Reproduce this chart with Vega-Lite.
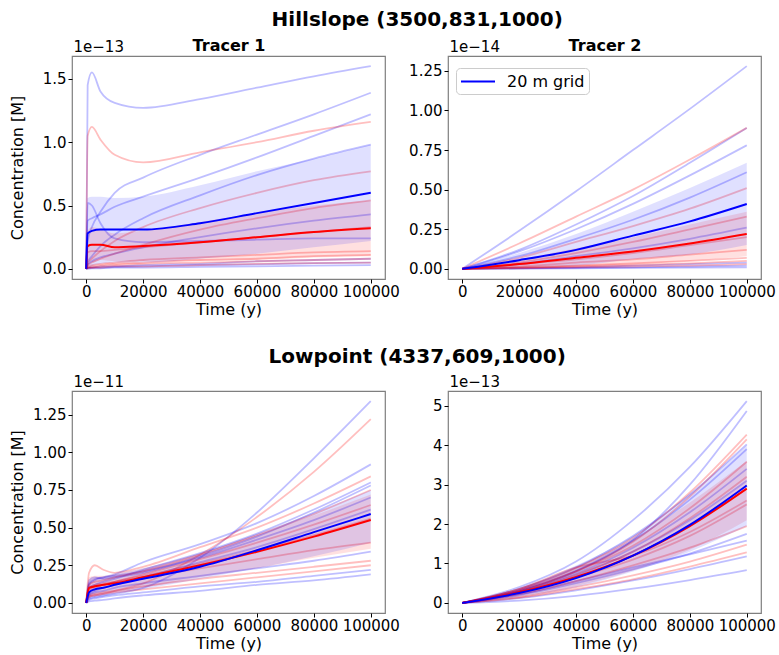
{
"$schema": "https://vega.github.io/schema/vega-lite/v6.json",
"background": "white",
"padding": {"left": 8, "top": 10, "right": 0, "bottom": 0},
"config": {
 "view": {"stroke": "#7f7f7f", "strokeWidth": 1.2},
 "axis": {"labelFont": "DejaVu Sans", "labelFontSize": 15, "labelColor": "#000", "titleFont": "DejaVu Sans", "titleFontSize": 16, "titleFontWeight": "normal", "titleColor": "#000", "tickColor": "#000", "tickSize": 4, "domain": false, "grid": false, "labelPadding": 2, "labelOverlap": false, "labelFlush": false},
 "axisX": {"labelPadding": 1},
 "title": {"font": "DejaVu Sans", "color": "#000"},
 "line": {"interpolate": "monotone"},
 "area": {"interpolate": "monotone"}
},
"datasets": {
 "L1": [
  {"s":"B","r":1,"t":0,"v":0},{"s":"B","r":1,"t":500,"v":1.45},{"s":"B","r":1,"t":2000,"v":1.55},{"s":"B","r":1,"t":5000,"v":1.4},{"s":"B","r":1,"t":10000,"v":1.31},{"s":"B","r":1,"t":20000,"v":1.27},{"s":"B","r":1,"t":40000,"v":1.34},{"s":"B","r":1,"t":60000,"v":1.43},{"s":"B","r":1,"t":80000,"v":1.52},{"s":"B","r":1,"t":100000,"v":1.6},
  {"s":"B","r":2,"t":0,"v":0},{"s":"B","r":2,"t":500,"v":0.22},{"s":"B","r":2,"t":2000,"v":0.33},{"s":"B","r":2,"t":5000,"v":0.45},{"s":"B","r":2,"t":10000,"v":0.6},{"s":"B","r":2,"t":20000,"v":0.72},{"s":"B","r":2,"t":40000,"v":0.9},{"s":"B","r":2,"t":60000,"v":1.06},{"s":"B","r":2,"t":80000,"v":1.22},{"s":"B","r":2,"t":100000,"v":1.39},
  {"s":"B","r":3,"t":0,"v":0},{"s":"B","r":3,"t":500,"v":0.38},{"s":"B","r":3,"t":2000,"v":0.4},{"s":"B","r":3,"t":5000,"v":0.43},{"s":"B","r":3,"t":10000,"v":0.49},{"s":"B","r":3,"t":20000,"v":0.57},{"s":"B","r":3,"t":40000,"v":0.72},{"s":"B","r":3,"t":60000,"v":0.88},{"s":"B","r":3,"t":80000,"v":1.05},{"s":"B","r":3,"t":100000,"v":1.22},
  {"s":"B","r":4,"t":0,"v":0},{"s":"B","r":4,"t":500,"v":0.52},{"s":"B","r":4,"t":2000,"v":0.5},{"s":"B","r":4,"t":5000,"v":0.36},{"s":"B","r":4,"t":10000,"v":0.24},{"s":"B","r":4,"t":20000,"v":0.21},{"s":"B","r":4,"t":40000,"v":0.22},{"s":"B","r":4,"t":60000,"v":0.23},{"s":"B","r":4,"t":80000,"v":0.24},{"s":"B","r":4,"t":100000,"v":0.24},
  {"s":"B","r":5,"t":0,"v":0},{"s":"B","r":5,"t":500,"v":0.05},{"s":"B","r":5,"t":2000,"v":0.1},{"s":"B","r":5,"t":5000,"v":0.18},{"s":"B","r":5,"t":10000,"v":0.27},{"s":"B","r":5,"t":20000,"v":0.4},{"s":"B","r":5,"t":40000,"v":0.58},{"s":"B","r":5,"t":60000,"v":0.74},{"s":"B","r":5,"t":80000,"v":0.87},{"s":"B","r":5,"t":100000,"v":0.98},
  {"s":"B","r":6,"t":0,"v":0},{"s":"B","r":6,"t":500,"v":0.03},{"s":"B","r":6,"t":2000,"v":0.06},{"s":"B","r":6,"t":5000,"v":0.09},{"s":"B","r":6,"t":10000,"v":0.12},{"s":"B","r":6,"t":20000,"v":0.17},{"s":"B","r":6,"t":40000,"v":0.25},{"s":"B","r":6,"t":60000,"v":0.32},{"s":"B","r":6,"t":80000,"v":0.38},{"s":"B","r":6,"t":100000,"v":0.43},
  {"s":"B","r":7,"t":0,"v":0},{"s":"B","r":7,"t":500,"v":0.01},{"s":"B","r":7,"t":2000,"v":0.01},{"s":"B","r":7,"t":5000,"v":0.02},{"s":"B","r":7,"t":10000,"v":0.02},{"s":"B","r":7,"t":20000,"v":0.03},{"s":"B","r":7,"t":40000,"v":0.04},{"s":"B","r":7,"t":60000,"v":0.06},{"s":"B","r":7,"t":80000,"v":0.07},{"s":"B","r":7,"t":100000,"v":0.08},
  {"s":"B","r":8,"t":0,"v":0},{"s":"B","r":8,"t":500,"v":0.005},{"s":"B","r":8,"t":2000,"v":0.01},{"s":"B","r":8,"t":5000,"v":0.01},{"s":"B","r":8,"t":10000,"v":0.015},{"s":"B","r":8,"t":20000,"v":0.02},{"s":"B","r":8,"t":40000,"v":0.03},{"s":"B","r":8,"t":60000,"v":0.035},{"s":"B","r":8,"t":80000,"v":0.045},{"s":"B","r":8,"t":100000,"v":0.05},
  {"s":"B","r":9,"t":0,"v":0},{"s":"B","r":9,"t":500,"v":0},{"s":"B","r":9,"t":2000,"v":0.005},{"s":"B","r":9,"t":5000,"v":0.005},{"s":"B","r":9,"t":10000,"v":0.01},{"s":"B","r":9,"t":20000,"v":0.01},{"s":"B","r":9,"t":40000,"v":0.015},{"s":"B","r":9,"t":60000,"v":0.02},{"s":"B","r":9,"t":80000,"v":0.025},{"s":"B","r":9,"t":100000,"v":0.03},
  {"s":"R","r":1,"t":0,"v":0},{"s":"R","r":1,"t":500,"v":1.05},{"s":"R","r":1,"t":2000,"v":1.12},{"s":"R","r":1,"t":5000,"v":1.02},{"s":"R","r":1,"t":10000,"v":0.9},{"s":"R","r":1,"t":20000,"v":0.84},{"s":"R","r":1,"t":40000,"v":0.92},{"s":"R","r":1,"t":60000,"v":1.0},{"s":"R","r":1,"t":80000,"v":1.09},{"s":"R","r":1,"t":100000,"v":1.16},
  {"s":"R","r":2,"t":0,"v":0},{"s":"R","r":2,"t":500,"v":0.04},{"s":"R","r":2,"t":2000,"v":0.08},{"s":"R","r":2,"t":5000,"v":0.14},{"s":"R","r":2,"t":10000,"v":0.22},{"s":"R","r":2,"t":20000,"v":0.33},{"s":"R","r":2,"t":40000,"v":0.48},{"s":"R","r":2,"t":60000,"v":0.6},{"s":"R","r":2,"t":80000,"v":0.7},{"s":"R","r":2,"t":100000,"v":0.77},
  {"s":"R","r":3,"t":0,"v":0},{"s":"R","r":3,"t":500,"v":0.03},{"s":"R","r":3,"t":2000,"v":0.05},{"s":"R","r":3,"t":5000,"v":0.08},{"s":"R","r":3,"t":10000,"v":0.12},{"s":"R","r":3,"t":20000,"v":0.19},{"s":"R","r":3,"t":40000,"v":0.31},{"s":"R","r":3,"t":60000,"v":0.4},{"s":"R","r":3,"t":80000,"v":0.48},{"s":"R","r":3,"t":100000,"v":0.54},
  {"s":"R","r":4,"t":0,"v":0},{"s":"R","r":4,"t":500,"v":0.13},{"s":"R","r":4,"t":2000,"v":0.14},{"s":"R","r":4,"t":5000,"v":0.14},{"s":"R","r":4,"t":10000,"v":0.15},{"s":"R","r":4,"t":20000,"v":0.17},{"s":"R","r":4,"t":40000,"v":0.21},{"s":"R","r":4,"t":60000,"v":0.25},{"s":"R","r":4,"t":80000,"v":0.29},{"s":"R","r":4,"t":100000,"v":0.33},
  {"s":"R","r":5,"t":0,"v":0},{"s":"R","r":5,"t":500,"v":0.02},{"s":"R","r":5,"t":2000,"v":0.03},{"s":"R","r":5,"t":5000,"v":0.04},{"s":"R","r":5,"t":10000,"v":0.05},{"s":"R","r":5,"t":20000,"v":0.07},{"s":"R","r":5,"t":40000,"v":0.09},{"s":"R","r":5,"t":60000,"v":0.11},{"s":"R","r":5,"t":80000,"v":0.13},{"s":"R","r":5,"t":100000,"v":0.14},
  {"s":"R","r":6,"t":0,"v":0},{"s":"R","r":6,"t":500,"v":0.01},{"s":"R","r":6,"t":2000,"v":0.02},{"s":"R","r":6,"t":5000,"v":0.03},{"s":"R","r":6,"t":10000,"v":0.04},{"s":"R","r":6,"t":20000,"v":0.05},{"s":"R","r":6,"t":40000,"v":0.07},{"s":"R","r":6,"t":60000,"v":0.08},{"s":"R","r":6,"t":80000,"v":0.1},{"s":"R","r":6,"t":100000,"v":0.11},
  {"s":"R","r":7,"t":0,"v":0},{"s":"R","r":7,"t":500,"v":0.01},{"s":"R","r":7,"t":2000,"v":0.01},{"s":"R","r":7,"t":5000,"v":0.02},{"s":"R","r":7,"t":10000,"v":0.03},{"s":"R","r":7,"t":20000,"v":0.04},{"s":"R","r":7,"t":40000,"v":0.05},{"s":"R","r":7,"t":60000,"v":0.06},{"s":"R","r":7,"t":80000,"v":0.07},{"s":"R","r":7,"t":100000,"v":0.08},
  {"s":"R","r":8,"t":0,"v":0},{"s":"R","r":8,"t":500,"v":0.005},{"s":"R","r":8,"t":2000,"v":0.01},{"s":"R","r":8,"t":5000,"v":0.01},{"s":"R","r":8,"t":10000,"v":0.02},{"s":"R","r":8,"t":20000,"v":0.02},{"s":"R","r":8,"t":40000,"v":0.03},{"s":"R","r":8,"t":60000,"v":0.04},{"s":"R","r":8,"t":80000,"v":0.045},{"s":"R","r":8,"t":100000,"v":0.05}
 ],
 "S1": [
  {"s":"R","t":0,"m":0,"lo":0,"hi":0},{"s":"R","t":500,"m":0.18,"lo":0.06,"hi":0.3},{"s":"R","t":2000,"m":0.19,"lo":0.05,"hi":0.33},{"s":"R","t":5000,"m":0.19,"lo":0.07,"hi":0.31},{"s":"R","t":10000,"m":0.17,"lo":0.06,"hi":0.28},{"s":"R","t":20000,"m":0.18,"lo":0.06,"hi":0.3},{"s":"R","t":40000,"m":0.21,"lo":0.06,"hi":0.37},{"s":"R","t":60000,"m":0.25,"lo":0.07,"hi":0.44},{"s":"R","t":80000,"m":0.29,"lo":0.09,"hi":0.5},{"s":"R","t":100000,"m":0.32,"lo":0.1,"hi":0.54},
  {"s":"B","t":0,"m":0,"lo":0,"hi":0},{"s":"B","t":500,"m":0.28,"lo":0.0,"hi":0.56},{"s":"B","t":2000,"m":0.3,"lo":0.02,"hi":0.57},{"s":"B","t":5000,"m":0.31,"lo":0.04,"hi":0.57},{"s":"B","t":10000,"m":0.31,"lo":0.05,"hi":0.56},{"s":"B","t":20000,"m":0.31,"lo":0.05,"hi":0.57},{"s":"B","t":40000,"m":0.36,"lo":0.08,"hi":0.66},{"s":"B","t":60000,"m":0.44,"lo":0.12,"hi":0.77},{"s":"B","t":80000,"m":0.52,"lo":0.17,"hi":0.87},{"s":"B","t":100000,"m":0.6,"lo":0.22,"hi":0.98}
 ],
 "L2": [
  {"s":"B","r":1,"t":0,"v":0},{"s":"B","r":1,"t":20000,"v":0.24},{"s":"B","r":1,"t":40000,"v":0.49},{"s":"B","r":1,"t":60000,"v":0.75},{"s":"B","r":1,"t":80000,"v":1.01},{"s":"B","r":1,"t":100000,"v":1.28},
  {"s":"B","r":2,"t":0,"v":0},{"s":"B","r":2,"t":20000,"v":0.12},{"s":"B","r":2,"t":40000,"v":0.28},{"s":"B","r":2,"t":60000,"v":0.46},{"s":"B","r":2,"t":80000,"v":0.67},{"s":"B","r":2,"t":100000,"v":0.89},
  {"s":"B","r":3,"t":0,"v":0},{"s":"B","r":3,"t":20000,"v":0.11},{"s":"B","r":3,"t":40000,"v":0.25},{"s":"B","r":3,"t":60000,"v":0.41},{"s":"B","r":3,"t":80000,"v":0.59},{"s":"B","r":3,"t":100000,"v":0.78},
  {"s":"B","r":4,"t":0,"v":0},{"s":"B","r":4,"t":20000,"v":0.08},{"s":"B","r":4,"t":40000,"v":0.19},{"s":"B","r":4,"t":60000,"v":0.31},{"s":"B","r":4,"t":80000,"v":0.45},{"s":"B","r":4,"t":100000,"v":0.61},
  {"s":"B","r":5,"t":0,"v":0},{"s":"B","r":5,"t":20000,"v":0.03},{"s":"B","r":5,"t":40000,"v":0.08},{"s":"B","r":5,"t":60000,"v":0.13},{"s":"B","r":5,"t":80000,"v":0.19},{"s":"B","r":5,"t":100000,"v":0.26},
  {"s":"B","r":6,"t":0,"v":0},{"s":"B","r":6,"t":20000,"v":0.005},{"s":"B","r":6,"t":40000,"v":0.01},{"s":"B","r":6,"t":60000,"v":0.02},{"s":"B","r":6,"t":80000,"v":0.03},{"s":"B","r":6,"t":100000,"v":0.04},
  {"s":"B","r":7,"t":0,"v":0},{"s":"B","r":7,"t":20000,"v":0.003},{"s":"B","r":7,"t":40000,"v":0.006},{"s":"B","r":7,"t":60000,"v":0.01},{"s":"B","r":7,"t":80000,"v":0.015},{"s":"B","r":7,"t":100000,"v":0.02},
  {"s":"B","r":8,"t":0,"v":0},{"s":"B","r":8,"t":20000,"v":0.002},{"s":"B","r":8,"t":40000,"v":0.004},{"s":"B","r":8,"t":60000,"v":0.006},{"s":"B","r":8,"t":80000,"v":0.008},{"s":"B","r":8,"t":100000,"v":0.01},
  {"s":"R","r":1,"t":0,"v":0},{"s":"R","r":1,"t":20000,"v":0.16},{"s":"R","r":1,"t":40000,"v":0.33},{"s":"R","r":1,"t":60000,"v":0.5},{"s":"R","r":1,"t":80000,"v":0.69},{"s":"R","r":1,"t":100000,"v":0.89},
  {"s":"R","r":2,"t":0,"v":0},{"s":"R","r":2,"t":20000,"v":0.07},{"s":"R","r":2,"t":40000,"v":0.17},{"s":"R","r":2,"t":60000,"v":0.27},{"s":"R","r":2,"t":80000,"v":0.38},{"s":"R","r":2,"t":100000,"v":0.51},
  {"s":"R","r":3,"t":0,"v":0},{"s":"R","r":3,"t":20000,"v":0.04},{"s":"R","r":3,"t":40000,"v":0.1},{"s":"R","r":3,"t":60000,"v":0.17},{"s":"R","r":3,"t":80000,"v":0.25},{"s":"R","r":3,"t":100000,"v":0.33},
  {"s":"R","r":4,"t":0,"v":0},{"s":"R","r":4,"t":20000,"v":0.03},{"s":"R","r":4,"t":40000,"v":0.06},{"s":"R","r":4,"t":60000,"v":0.1},{"s":"R","r":4,"t":80000,"v":0.15},{"s":"R","r":4,"t":100000,"v":0.2},
  {"s":"R","r":5,"t":0,"v":0},{"s":"R","r":5,"t":20000,"v":0.015},{"s":"R","r":5,"t":40000,"v":0.04},{"s":"R","r":5,"t":60000,"v":0.06},{"s":"R","r":5,"t":80000,"v":0.09},{"s":"R","r":5,"t":100000,"v":0.12},
  {"s":"R","r":6,"t":0,"v":0},{"s":"R","r":6,"t":20000,"v":0.01},{"s":"R","r":6,"t":40000,"v":0.02},{"s":"R","r":6,"t":60000,"v":0.035},{"s":"R","r":6,"t":80000,"v":0.05},{"s":"R","r":6,"t":100000,"v":0.07},
  {"s":"R","r":7,"t":0,"v":0},{"s":"R","r":7,"t":20000,"v":0.007},{"s":"R","r":7,"t":40000,"v":0.015},{"s":"R","r":7,"t":60000,"v":0.025},{"s":"R","r":7,"t":80000,"v":0.035},{"s":"R","r":7,"t":100000,"v":0.05},
  {"s":"R","r":8,"t":0,"v":0},{"s":"R","r":8,"t":20000,"v":0.004},{"s":"R","r":8,"t":40000,"v":0.01},{"s":"R","r":8,"t":60000,"v":0.015},{"s":"R","r":8,"t":80000,"v":0.02},{"s":"R","r":8,"t":100000,"v":0.03}
 ],
 "S2": [
  {"s":"R","t":0,"m":0,"lo":0,"hi":0},{"s":"R","t":20000,"m":0.03,"lo":0.005,"hi":0.06},{"s":"R","t":40000,"m":0.07,"lo":0.015,"hi":0.13},{"s":"R","t":60000,"m":0.11,"lo":0.03,"hi":0.2},{"s":"R","t":80000,"m":0.16,"lo":0.05,"hi":0.28},{"s":"R","t":100000,"m":0.22,"lo":0.08,"hi":0.36},
  {"s":"B","t":0,"m":0,"lo":0,"hi":0},{"s":"B","t":20000,"m":0.055,"lo":0.01,"hi":0.1},{"s":"B","t":40000,"m":0.12,"lo":0.02,"hi":0.22},{"s":"B","t":60000,"m":0.21,"lo":0.06,"hi":0.36},{"s":"B","t":80000,"m":0.3,"lo":0.09,"hi":0.51},{"s":"B","t":100000,"m":0.41,"lo":0.15,"hi":0.67}
 ],
 "L3": [
  {"s":"B","r":1,"t":0,"v":0},{"s":"B","r":1,"t":1000,"v":0.03},{"s":"B","r":1,"t":3000,"v":0.04},{"s":"B","r":1,"t":6000,"v":0.05},{"s":"B","r":1,"t":10000,"v":0.06},{"s":"B","r":1,"t":20000,"v":0.1},{"s":"B","r":1,"t":40000,"v":0.3},{"s":"B","r":1,"t":60000,"v":0.6},{"s":"B","r":1,"t":80000,"v":0.96},{"s":"B","r":1,"t":100000,"v":1.34},
  {"s":"B","r":2,"t":0,"v":0},{"s":"B","r":2,"t":1000,"v":0.12},{"s":"B","r":2,"t":3000,"v":0.15},{"s":"B","r":2,"t":6000,"v":0.17},{"s":"B","r":2,"t":10000,"v":0.19},{"s":"B","r":2,"t":20000,"v":0.27},{"s":"B","r":2,"t":40000,"v":0.39},{"s":"B","r":2,"t":60000,"v":0.53},{"s":"B","r":2,"t":80000,"v":0.71},{"s":"B","r":2,"t":100000,"v":0.92},
  {"s":"B","r":3,"t":0,"v":0},{"s":"B","r":3,"t":1000,"v":0.1},{"s":"B","r":3,"t":3000,"v":0.12},{"s":"B","r":3,"t":6000,"v":0.14},{"s":"B","r":3,"t":10000,"v":0.16},{"s":"B","r":3,"t":20000,"v":0.22},{"s":"B","r":3,"t":40000,"v":0.33},{"s":"B","r":3,"t":60000,"v":0.46},{"s":"B","r":3,"t":80000,"v":0.62},{"s":"B","r":3,"t":100000,"v":0.8},
  {"s":"B","r":4,"t":0,"v":0},{"s":"B","r":4,"t":1000,"v":0.15},{"s":"B","r":4,"t":3000,"v":0.17},{"s":"B","r":4,"t":6000,"v":0.16},{"s":"B","r":4,"t":10000,"v":0.17},{"s":"B","r":4,"t":20000,"v":0.2},{"s":"B","r":4,"t":40000,"v":0.31},{"s":"B","r":4,"t":60000,"v":0.44},{"s":"B","r":4,"t":80000,"v":0.6},{"s":"B","r":4,"t":100000,"v":0.78},
  {"s":"B","r":5,"t":0,"v":0},{"s":"B","r":5,"t":1000,"v":0.06},{"s":"B","r":5,"t":3000,"v":0.08},{"s":"B","r":5,"t":6000,"v":0.1},{"s":"B","r":5,"t":10000,"v":0.12},{"s":"B","r":5,"t":20000,"v":0.17},{"s":"B","r":5,"t":40000,"v":0.27},{"s":"B","r":5,"t":60000,"v":0.37},{"s":"B","r":5,"t":80000,"v":0.49},{"s":"B","r":5,"t":100000,"v":0.62},
  {"s":"B","r":6,"t":0,"v":0},{"s":"B","r":6,"t":1000,"v":0.05},{"s":"B","r":6,"t":3000,"v":0.07},{"s":"B","r":6,"t":6000,"v":0.08},{"s":"B","r":6,"t":10000,"v":0.1},{"s":"B","r":6,"t":20000,"v":0.13},{"s":"B","r":6,"t":40000,"v":0.18},{"s":"B","r":6,"t":60000,"v":0.23},{"s":"B","r":6,"t":80000,"v":0.28},{"s":"B","r":6,"t":100000,"v":0.34},
  {"s":"B","r":7,"t":0,"v":0},{"s":"B","r":7,"t":1000,"v":0.02},{"s":"B","r":7,"t":3000,"v":0.03},{"s":"B","r":7,"t":6000,"v":0.04},{"s":"B","r":7,"t":10000,"v":0.05},{"s":"B","r":7,"t":20000,"v":0.07},{"s":"B","r":7,"t":40000,"v":0.11},{"s":"B","r":7,"t":60000,"v":0.14},{"s":"B","r":7,"t":80000,"v":0.18},{"s":"B","r":7,"t":100000,"v":0.22},
  {"s":"B","r":8,"t":0,"v":0},{"s":"B","r":8,"t":1000,"v":0.01},{"s":"B","r":8,"t":3000,"v":0.015},{"s":"B","r":8,"t":6000,"v":0.02},{"s":"B","r":8,"t":10000,"v":0.03},{"s":"B","r":8,"t":20000,"v":0.05},{"s":"B","r":8,"t":40000,"v":0.08},{"s":"B","r":8,"t":60000,"v":0.12},{"s":"B","r":8,"t":80000,"v":0.15},{"s":"B","r":8,"t":100000,"v":0.19},
  {"s":"B","r":9,"t":0,"v":0},{"s":"B","r":9,"t":1000,"v":0.13},{"s":"B","r":9,"t":3000,"v":0.16},{"s":"B","r":9,"t":6000,"v":0.17},{"s":"B","r":9,"t":10000,"v":0.18},{"s":"B","r":9,"t":20000,"v":0.21},{"s":"B","r":9,"t":40000,"v":0.3},{"s":"B","r":9,"t":60000,"v":0.42},{"s":"B","r":9,"t":80000,"v":0.55},{"s":"B","r":9,"t":100000,"v":0.7},
  {"s":"R","r":1,"t":0,"v":0},{"s":"R","r":1,"t":1000,"v":0.04},{"s":"R","r":1,"t":3000,"v":0.05},{"s":"R","r":1,"t":6000,"v":0.06},{"s":"R","r":1,"t":10000,"v":0.08},{"s":"R","r":1,"t":20000,"v":0.13},{"s":"R","r":1,"t":40000,"v":0.32},{"s":"R","r":1,"t":60000,"v":0.57},{"s":"R","r":1,"t":80000,"v":0.87},{"s":"R","r":1,"t":100000,"v":1.22},
  {"s":"R","r":2,"t":0,"v":0},{"s":"R","r":2,"t":1000,"v":0.2},{"s":"R","r":2,"t":3000,"v":0.25},{"s":"R","r":2,"t":6000,"v":0.22},{"s":"R","r":2,"t":10000,"v":0.2},{"s":"R","r":2,"t":20000,"v":0.24},{"s":"R","r":2,"t":40000,"v":0.37},{"s":"R","r":2,"t":60000,"v":0.5},{"s":"R","r":2,"t":80000,"v":0.66},{"s":"R","r":2,"t":100000,"v":0.84},
  {"s":"R","r":3,"t":0,"v":0},{"s":"R","r":3,"t":1000,"v":0.12},{"s":"R","r":3,"t":3000,"v":0.14},{"s":"R","r":3,"t":6000,"v":0.15},{"s":"R","r":3,"t":10000,"v":0.17},{"s":"R","r":3,"t":20000,"v":0.21},{"s":"R","r":3,"t":40000,"v":0.32},{"s":"R","r":3,"t":60000,"v":0.45},{"s":"R","r":3,"t":80000,"v":0.59},{"s":"R","r":3,"t":100000,"v":0.75},
  {"s":"R","r":4,"t":0,"v":0},{"s":"R","r":4,"t":1000,"v":0.08},{"s":"R","r":4,"t":3000,"v":0.1},{"s":"R","r":4,"t":6000,"v":0.12},{"s":"R","r":4,"t":10000,"v":0.14},{"s":"R","r":4,"t":20000,"v":0.19},{"s":"R","r":4,"t":40000,"v":0.29},{"s":"R","r":4,"t":60000,"v":0.4},{"s":"R","r":4,"t":80000,"v":0.52},{"s":"R","r":4,"t":100000,"v":0.65},
  {"s":"R","r":5,"t":0,"v":0},{"s":"R","r":5,"t":1000,"v":0.1},{"s":"R","r":5,"t":3000,"v":0.12},{"s":"R","r":5,"t":6000,"v":0.13},{"s":"R","r":5,"t":10000,"v":0.14},{"s":"R","r":5,"t":20000,"v":0.17},{"s":"R","r":5,"t":40000,"v":0.23},{"s":"R","r":5,"t":60000,"v":0.29},{"s":"R","r":5,"t":80000,"v":0.35},{"s":"R","r":5,"t":100000,"v":0.4},
  {"s":"R","r":6,"t":0,"v":0},{"s":"R","r":6,"t":1000,"v":0.05},{"s":"R","r":6,"t":3000,"v":0.06},{"s":"R","r":6,"t":6000,"v":0.07},{"s":"R","r":6,"t":10000,"v":0.08},{"s":"R","r":6,"t":20000,"v":0.11},{"s":"R","r":6,"t":40000,"v":0.16},{"s":"R","r":6,"t":60000,"v":0.2},{"s":"R","r":6,"t":80000,"v":0.24},{"s":"R","r":6,"t":100000,"v":0.28},
  {"s":"R","r":7,"t":0,"v":0},{"s":"R","r":7,"t":1000,"v":0.04},{"s":"R","r":7,"t":3000,"v":0.05},{"s":"R","r":7,"t":6000,"v":0.06},{"s":"R","r":7,"t":10000,"v":0.07},{"s":"R","r":7,"t":20000,"v":0.09},{"s":"R","r":7,"t":40000,"v":0.13},{"s":"R","r":7,"t":60000,"v":0.17},{"s":"R","r":7,"t":80000,"v":0.21},{"s":"R","r":7,"t":100000,"v":0.25},
  {"s":"R","r":8,"t":0,"v":0},{"s":"R","r":8,"t":1000,"v":0.09},{"s":"R","r":8,"t":3000,"v":0.11},{"s":"R","r":8,"t":6000,"v":0.12},{"s":"R","r":8,"t":10000,"v":0.14},{"s":"R","r":8,"t":20000,"v":0.18},{"s":"R","r":8,"t":40000,"v":0.26},{"s":"R","r":8,"t":60000,"v":0.35},{"s":"R","r":8,"t":80000,"v":0.45},{"s":"R","r":8,"t":100000,"v":0.56}
 ],
 "S3": [
  {"s":"R","t":0,"m":0,"lo":0,"hi":0},{"s":"R","t":1000,"m":0.1,"lo":0.04,"hi":0.17},{"s":"R","t":3000,"m":0.11,"lo":0.05,"hi":0.18},{"s":"R","t":6000,"m":0.12,"lo":0.06,"hi":0.18},{"s":"R","t":10000,"m":0.13,"lo":0.07,"hi":0.19},{"s":"R","t":20000,"m":0.17,"lo":0.1,"hi":0.23},{"s":"R","t":40000,"m":0.25,"lo":0.17,"hi":0.33},{"s":"R","t":60000,"m":0.34,"lo":0.23,"hi":0.45},{"s":"R","t":80000,"m":0.44,"lo":0.3,"hi":0.58},{"s":"R","t":100000,"m":0.55,"lo":0.36,"hi":0.72},
  {"s":"B","t":0,"m":0,"lo":0,"hi":0},{"s":"B","t":1000,"m":0.07,"lo":0.02,"hi":0.14},{"s":"B","t":3000,"m":0.09,"lo":0.03,"hi":0.16},{"s":"B","t":6000,"m":0.1,"lo":0.04,"hi":0.17},{"s":"B","t":10000,"m":0.12,"lo":0.06,"hi":0.19},{"s":"B","t":20000,"m":0.16,"lo":0.09,"hi":0.23},{"s":"B","t":40000,"m":0.24,"lo":0.16,"hi":0.33},{"s":"B","t":60000,"m":0.35,"lo":0.23,"hi":0.46},{"s":"B","t":80000,"m":0.47,"lo":0.31,"hi":0.6},{"s":"B","t":100000,"m":0.59,"lo":0.4,"hi":0.75}
 ],
 "L4": [
  {"s":"B","r":1,"t":0,"v":0},{"s":"B","r":1,"t":20000,"v":0.4},{"s":"B","r":1,"t":40000,"v":1.05},{"s":"B","r":1,"t":60000,"v":2.1},{"s":"B","r":1,"t":80000,"v":3.45},{"s":"B","r":1,"t":100000,"v":5.12},
  {"s":"B","r":2,"t":0,"v":0},{"s":"B","r":2,"t":20000,"v":0.3},{"s":"B","r":2,"t":40000,"v":0.8},{"s":"B","r":2,"t":60000,"v":1.6},{"s":"B","r":2,"t":80000,"v":3.0},{"s":"B","r":2,"t":100000,"v":4.87},
  {"s":"B","r":3,"t":0,"v":0},{"s":"B","r":3,"t":20000,"v":0.35},{"s":"B","r":3,"t":40000,"v":0.9},{"s":"B","r":3,"t":60000,"v":1.7},{"s":"B","r":3,"t":80000,"v":2.75},{"s":"B","r":3,"t":100000,"v":4.02},
  {"s":"B","r":4,"t":0,"v":0},{"s":"B","r":4,"t":20000,"v":0.32},{"s":"B","r":4,"t":40000,"v":0.82},{"s":"B","r":4,"t":60000,"v":1.58},{"s":"B","r":4,"t":80000,"v":2.62},{"s":"B","r":4,"t":100000,"v":3.9},
  {"s":"B","r":5,"t":0,"v":0},{"s":"B","r":5,"t":20000,"v":0.3},{"s":"B","r":5,"t":40000,"v":0.75},{"s":"B","r":5,"t":60000,"v":1.4},{"s":"B","r":5,"t":80000,"v":2.3},{"s":"B","r":5,"t":100000,"v":3.4},
  {"s":"B","r":6,"t":0,"v":0},{"s":"B","r":6,"t":20000,"v":0.28},{"s":"B","r":6,"t":40000,"v":0.7},{"s":"B","r":6,"t":60000,"v":1.3},{"s":"B","r":6,"t":80000,"v":2.1},{"s":"B","r":6,"t":100000,"v":3.1},
  {"s":"B","r":7,"t":0,"v":0},{"s":"B","r":7,"t":20000,"v":0.2},{"s":"B","r":7,"t":40000,"v":0.5},{"s":"B","r":7,"t":60000,"v":0.85},{"s":"B","r":7,"t":80000,"v":1.25},{"s":"B","r":7,"t":100000,"v":1.75},
  {"s":"B","r":8,"t":0,"v":0},{"s":"B","r":8,"t":20000,"v":0.22},{"s":"B","r":8,"t":40000,"v":0.55},{"s":"B","r":8,"t":60000,"v":0.9},{"s":"B","r":8,"t":80000,"v":1.23},{"s":"B","r":8,"t":100000,"v":1.58},
  {"s":"B","r":9,"t":0,"v":0},{"s":"B","r":9,"t":20000,"v":0.12},{"s":"B","r":9,"t":40000,"v":0.32},{"s":"B","r":9,"t":60000,"v":0.57},{"s":"B","r":9,"t":80000,"v":0.86},{"s":"B","r":9,"t":100000,"v":1.18},
  {"s":"B","r":10,"t":0,"v":0},{"s":"B","r":10,"t":20000,"v":0.06},{"s":"B","r":10,"t":40000,"v":0.18},{"s":"B","r":10,"t":60000,"v":0.36},{"s":"B","r":10,"t":80000,"v":0.58},{"s":"B","r":10,"t":100000,"v":0.83},
  {"s":"R","r":1,"t":0,"v":0},{"s":"R","r":1,"t":20000,"v":0.35},{"s":"R","r":1,"t":40000,"v":0.88},{"s":"R","r":1,"t":60000,"v":1.65},{"s":"R","r":1,"t":80000,"v":2.8},{"s":"R","r":1,"t":100000,"v":4.27},
  {"s":"R","r":2,"t":0,"v":0},{"s":"R","r":2,"t":20000,"v":0.3},{"s":"R","r":2,"t":40000,"v":0.8},{"s":"R","r":2,"t":60000,"v":1.55},{"s":"R","r":2,"t":80000,"v":2.7},{"s":"R","r":2,"t":100000,"v":4.15},
  {"s":"R","r":3,"t":0,"v":0},{"s":"R","r":3,"t":20000,"v":0.32},{"s":"R","r":3,"t":40000,"v":0.8},{"s":"R","r":3,"t":60000,"v":1.45},{"s":"R","r":3,"t":80000,"v":2.4},{"s":"R","r":3,"t":100000,"v":3.58},
  {"s":"R","r":4,"t":0,"v":0},{"s":"R","r":4,"t":20000,"v":0.28},{"s":"R","r":4,"t":40000,"v":0.72},{"s":"R","r":4,"t":60000,"v":1.3},{"s":"R","r":4,"t":80000,"v":2.15},{"s":"R","r":4,"t":100000,"v":3.2},
  {"s":"R","r":5,"t":0,"v":0},{"s":"R","r":5,"t":20000,"v":0.35},{"s":"R","r":5,"t":40000,"v":0.9},{"s":"R","r":5,"t":60000,"v":1.2},{"s":"R","r":5,"t":80000,"v":1.8},{"s":"R","r":5,"t":100000,"v":2.6},
  {"s":"R","r":6,"t":0,"v":0},{"s":"R","r":6,"t":20000,"v":0.25},{"s":"R","r":6,"t":40000,"v":0.65},{"s":"R","r":6,"t":60000,"v":1.1},{"s":"R","r":6,"t":80000,"v":1.7},{"s":"R","r":6,"t":100000,"v":2.5},
  {"s":"R","r":7,"t":0,"v":0},{"s":"R","r":7,"t":20000,"v":0.22},{"s":"R","r":7,"t":40000,"v":0.55},{"s":"R","r":7,"t":60000,"v":0.95},{"s":"R","r":7,"t":80000,"v":1.4},{"s":"R","r":7,"t":100000,"v":1.95},
  {"s":"R","r":8,"t":0,"v":0},{"s":"R","r":8,"t":20000,"v":0.15},{"s":"R","r":8,"t":40000,"v":0.4},{"s":"R","r":8,"t":60000,"v":0.7},{"s":"R","r":8,"t":80000,"v":1.05},{"s":"R","r":8,"t":100000,"v":1.48},
  {"s":"R","r":9,"t":0,"v":0},{"s":"R","r":9,"t":20000,"v":0.13},{"s":"R","r":9,"t":40000,"v":0.35},{"s":"R","r":9,"t":60000,"v":0.6},{"s":"R","r":9,"t":80000,"v":0.92},{"s":"R","r":9,"t":100000,"v":1.28}
 ],
 "S4": [
  {"s":"R","t":0,"m":0,"lo":0,"hi":0},{"s":"R","t":20000,"m":0.27,"lo":0.16,"hi":0.38},{"s":"R","t":40000,"m":0.66,"lo":0.42,"hi":0.92},{"s":"R","t":60000,"m":1.2,"lo":0.82,"hi":1.62},{"s":"R","t":80000,"m":1.95,"lo":1.35,"hi":2.55},{"s":"R","t":100000,"m":2.9,"lo":2.1,"hi":3.6},
  {"s":"B","t":0,"m":0,"lo":0,"hi":0},{"s":"B","t":20000,"m":0.25,"lo":0.15,"hi":0.38},{"s":"B","t":40000,"m":0.63,"lo":0.4,"hi":0.95},{"s":"B","t":60000,"m":1.2,"lo":0.8,"hi":1.7},{"s":"B","t":80000,"m":1.98,"lo":1.3,"hi":2.75},{"s":"B","t":100000,"m":2.98,"lo":1.95,"hi":4.0}
 ]
},
"resolve": {"scale": {"color": "independent", "stroke": "independent"}, "legend": {"color": "independent", "stroke": "independent"}},
"spacing": 29,
"vconcat": [
 {
  "title": {"text": "Hillslope (3500,831,1000)", "fontSize": 20, "fontWeight": "bold", "anchor": "middle", "offset": 6, "dx": 25},
  "bounds": "flush",
  "spacing": 63,
  "resolve": {"scale": {"color": "independent", "stroke": "independent"}, "legend": {"color": "independent", "stroke": "independent"}},
  "hconcat": [
   {
    "width": 313, "height": 223,
    "layer": [
     {"data": {"name": "L1"}, "mark": {"type": "line", "opacity": 0.25, "strokeWidth": 1.8},
      "encoding": {
       "x": {"field": "t", "type": "quantitative", "scale": {"domain": [-5000, 105000], "nice": false, "zero": false}, "axis": {"orient": "bottom", "values": [0,20000,40000,60000,80000,100000], "format": "d", "title": "Time (y)", "titlePadding": 2}},
       "y": {"field": "v", "type": "quantitative", "scale": {"domain": [-0.08, 1.68], "nice": false, "zero": false}, "axis": {"orient": "left", "values": [0,0.5,1,1.5], "format": ".1f", "title": "Concentration [M]", "minExtent": 42, "maxExtent": 42, "titlePadding": 5}},
       "color": {"field": "s", "type": "nominal", "scale": {"domain": ["B","R"], "range": ["#0000ff","#ff0000"]}, "legend": null},
       "detail": {"field": "r", "type": "nominal"}
      }},
     {"data": {"name": "S1"}, "mark": {"type": "area", "opacity": 0.12},
      "encoding": {
       "x": {"field": "t", "type": "quantitative", "scale": {"domain": [-5000, 105000], "nice": false, "zero": false}, "axis": {"orient": "top", "ticks": false, "labels": false, "domain": false, "title": "Tracer 1", "titleFontWeight": "bold", "titleFontSize": 16, "titleY": -6, "titleBaseline": "alphabetic"}},
       "y": {"field": "lo", "type": "quantitative", "scale": {"domain": [-0.08, 1.68], "nice": false, "zero": false}, "axis": {"orient": "right", "ticks": false, "labels": false, "domain": false, "title": "1e−13", "titleAngle": 0, "titleX": -312, "titleY": -5, "titleAlign": "left", "titleBaseline": "alphabetic", "titleFontSize": 15}},
       "y2": {"field": "hi"},
       "color": {"field": "s", "type": "nominal", "scale": {"domain": ["B","R"], "range": ["#0000ff","#ff0000"]}, "legend": null}
      }},
     {"data": {"name": "S1"}, "mark": {"type": "line", "strokeWidth": 2},
      "encoding": {
       "x": {"field": "t", "type": "quantitative", "scale": {"domain": [-5000, 105000], "nice": false, "zero": false}, "axis": null},
       "y": {"field": "m", "type": "quantitative", "scale": {"domain": [-0.08, 1.68], "nice": false, "zero": false}, "axis": null},
       "color": {"field": "s", "type": "nominal", "scale": {"domain": ["B","R"], "range": ["#0000ff","#ff0000"]}, "legend": null}
      }}
    ]
   },
   {
    "width": 313, "height": 223,
    "layer": [
     {"data": {"name": "L2"}, "mark": {"type": "line", "opacity": 0.25, "strokeWidth": 1.8},
      "encoding": {
       "x": {"field": "t", "type": "quantitative", "scale": {"domain": [-5000, 105000], "nice": false, "zero": false}, "axis": {"orient": "bottom", "values": [0,20000,40000,60000,80000,100000], "format": "d", "title": "Time (y)", "titlePadding": 2}},
       "y": {"field": "v", "type": "quantitative", "scale": {"domain": [-0.064, 1.344], "nice": false, "zero": false}, "axis": {"orient": "left", "values": [0,0.25,0.5,0.75,1,1.25], "format": ".2f", "title": null}},
       "color": {"field": "s", "type": "nominal", "scale": {"domain": ["B","R"], "range": ["#0000ff","#ff0000"]}, "legend": null},
       "detail": {"field": "r", "type": "nominal"}
      }},
     {"data": {"name": "S2"}, "mark": {"type": "area", "opacity": 0.12},
      "encoding": {
       "x": {"field": "t", "type": "quantitative", "scale": {"domain": [-5000, 105000], "nice": false, "zero": false}, "axis": {"orient": "top", "ticks": false, "labels": false, "domain": false, "title": "Tracer 2", "titleFontWeight": "bold", "titleFontSize": 16, "titleY": -6, "titleBaseline": "alphabetic"}},
       "y": {"field": "lo", "type": "quantitative", "scale": {"domain": [-0.064, 1.344], "nice": false, "zero": false}, "axis": {"orient": "right", "ticks": false, "labels": false, "domain": false, "title": "1e−14", "titleAngle": 0, "titleX": -312, "titleY": -5, "titleAlign": "left", "titleBaseline": "alphabetic", "titleFontSize": 15}},
       "y2": {"field": "hi"},
       "color": {"field": "s", "type": "nominal", "scale": {"domain": ["B","R"], "range": ["#0000ff","#ff0000"]}, "legend": null}
      }},
     {"data": {"name": "S2"}, "transform": [{"filter": "datum.s == 'R'"}], "mark": {"type": "line", "strokeWidth": 2, "color": "#ff0000"},
      "encoding": {
       "x": {"field": "t", "type": "quantitative", "scale": {"domain": [-5000, 105000], "nice": false, "zero": false}, "axis": null},
       "y": {"field": "m", "type": "quantitative", "scale": {"domain": [-0.064, 1.344], "nice": false, "zero": false}, "axis": null}
      }},
     {"data": {"name": "S2"}, "transform": [{"filter": "datum.s == 'B'"}], "mark": {"type": "line", "strokeWidth": 2},
      "encoding": {
       "x": {"field": "t", "type": "quantitative", "scale": {"domain": [-5000, 105000], "nice": false, "zero": false}, "axis": null},
       "y": {"field": "m", "type": "quantitative", "scale": {"domain": [-0.064, 1.344], "nice": false, "zero": false}, "axis": null},
       "stroke": {"datum": "20 m grid", "type": "nominal", "scale": {"domain": ["20 m grid"], "range": ["#0000ff"]},
        "legend": {"orient": "none", "legendX": 8, "legendY": 12, "title": null, "symbolType": "M-1,0H3", "symbolSize": 289, "symbolStrokeWidth": 2, "labelFontSize": 16, "labelFont": "DejaVu Sans", "labelColor": "#000", "fillColor": "white", "strokeColor": "#cccccc", "cornerRadius": 4, "padding": 4, "labelOffset": 28}}
      }}
    ]
   }
  ]
 },
 {
  "title": {"text": "Lowpoint (4337,609,1000)", "fontSize": 20, "fontWeight": "bold", "anchor": "middle", "offset": 6, "dx": 25},
  "bounds": "flush",
  "spacing": 63,
  "resolve": {"scale": {"color": "independent", "stroke": "independent"}, "legend": {"color": "independent", "stroke": "independent"}},
  "hconcat": [
   {
    "width": 313, "height": 222,
    "layer": [
     {"data": {"name": "L3"}, "mark": {"type": "line", "opacity": 0.25, "strokeWidth": 1.8},
      "encoding": {
       "x": {"field": "t", "type": "quantitative", "scale": {"domain": [-5000, 105000], "nice": false, "zero": false}, "axis": {"orient": "bottom", "values": [0,20000,40000,60000,80000,100000], "format": "d", "title": "Time (y)", "titlePadding": 2}},
       "y": {"field": "v", "type": "quantitative", "scale": {"domain": [-0.067, 1.407], "nice": false, "zero": false}, "axis": {"orient": "left", "values": [0,0.25,0.5,0.75,1,1.25], "format": ".2f", "title": "Concentration [M]", "minExtent": 42, "maxExtent": 42, "titlePadding": 5}},
       "color": {"field": "s", "type": "nominal", "scale": {"domain": ["B","R"], "range": ["#0000ff","#ff0000"]}, "legend": null},
       "detail": {"field": "r", "type": "nominal"}
      }},
     {"data": {"name": "S3"}, "mark": {"type": "area", "opacity": 0.12},
      "encoding": {
       "x": {"field": "t", "type": "quantitative", "scale": {"domain": [-5000, 105000], "nice": false, "zero": false}, "axis": {"orient": "bottom", "values": [0,20000,40000,60000,80000,100000], "format": "d", "title": "Time (y)", "titlePadding": 2}},
       "y": {"field": "lo", "type": "quantitative", "scale": {"domain": [-0.067, 1.407], "nice": false, "zero": false}, "axis": {"orient": "right", "ticks": false, "labels": false, "domain": false, "title": "1e−11", "titleAngle": 0, "titleX": -312, "titleY": -5, "titleAlign": "left", "titleBaseline": "alphabetic", "titleFontSize": 15}},
       "y2": {"field": "hi"},
       "color": {"field": "s", "type": "nominal", "scale": {"domain": ["B","R"], "range": ["#0000ff","#ff0000"]}, "legend": null}
      }},
     {"data": {"name": "S3"}, "mark": {"type": "line", "strokeWidth": 2},
      "encoding": {
       "x": {"field": "t", "type": "quantitative", "scale": {"domain": [-5000, 105000], "nice": false, "zero": false}, "axis": {"orient": "bottom", "values": [0,20000,40000,60000,80000,100000], "format": "d", "title": "Time (y)", "titlePadding": 2}},
       "y": {"field": "m", "type": "quantitative", "scale": {"domain": [-0.067, 1.407], "nice": false, "zero": false}, "axis": null},
       "color": {"field": "s", "type": "nominal", "scale": {"domain": ["B","R"], "range": ["#0000ff","#ff0000"]}, "legend": null}
      }}
    ]
   },
   {
    "width": 313, "height": 222,
    "layer": [
     {"data": {"name": "L4"}, "mark": {"type": "line", "opacity": 0.25, "strokeWidth": 1.8},
      "encoding": {
       "x": {"field": "t", "type": "quantitative", "scale": {"domain": [-5000, 105000], "nice": false, "zero": false}, "axis": {"orient": "bottom", "values": [0,20000,40000,60000,80000,100000], "format": "d", "title": "Time (y)", "titlePadding": 2}},
       "y": {"field": "v", "type": "quantitative", "scale": {"domain": [-0.256, 5.376], "nice": false, "zero": false}, "axis": {"orient": "left", "values": [0,1,2,3,4,5], "format": "d", "title": null}},
       "color": {"field": "s", "type": "nominal", "scale": {"domain": ["B","R"], "range": ["#0000ff","#ff0000"]}, "legend": null},
       "detail": {"field": "r", "type": "nominal"}
      }},
     {"data": {"name": "S4"}, "mark": {"type": "area", "opacity": 0.12},
      "encoding": {
       "x": {"field": "t", "type": "quantitative", "scale": {"domain": [-5000, 105000], "nice": false, "zero": false}, "axis": {"orient": "bottom", "values": [0,20000,40000,60000,80000,100000], "format": "d", "title": "Time (y)", "titlePadding": 2}},
       "y": {"field": "lo", "type": "quantitative", "scale": {"domain": [-0.256, 5.376], "nice": false, "zero": false}, "axis": {"orient": "right", "ticks": false, "labels": false, "domain": false, "title": "1e−13", "titleAngle": 0, "titleX": -312, "titleY": -5, "titleAlign": "left", "titleBaseline": "alphabetic", "titleFontSize": 15}},
       "y2": {"field": "hi"},
       "color": {"field": "s", "type": "nominal", "scale": {"domain": ["B","R"], "range": ["#0000ff","#ff0000"]}, "legend": null}
      }},
     {"data": {"name": "S4"}, "mark": {"type": "line", "strokeWidth": 2},
      "encoding": {
       "x": {"field": "t", "type": "quantitative", "scale": {"domain": [-5000, 105000], "nice": false, "zero": false}, "axis": {"orient": "bottom", "values": [0,20000,40000,60000,80000,100000], "format": "d", "title": "Time (y)", "titlePadding": 2}},
       "y": {"field": "m", "type": "quantitative", "scale": {"domain": [-0.256, 5.376], "nice": false, "zero": false}, "axis": null},
       "color": {"field": "s", "type": "nominal", "scale": {"domain": ["B","R"], "range": ["#0000ff","#ff0000"]}, "legend": null}
      }}
    ]
   }
  ]
 }
]
}
